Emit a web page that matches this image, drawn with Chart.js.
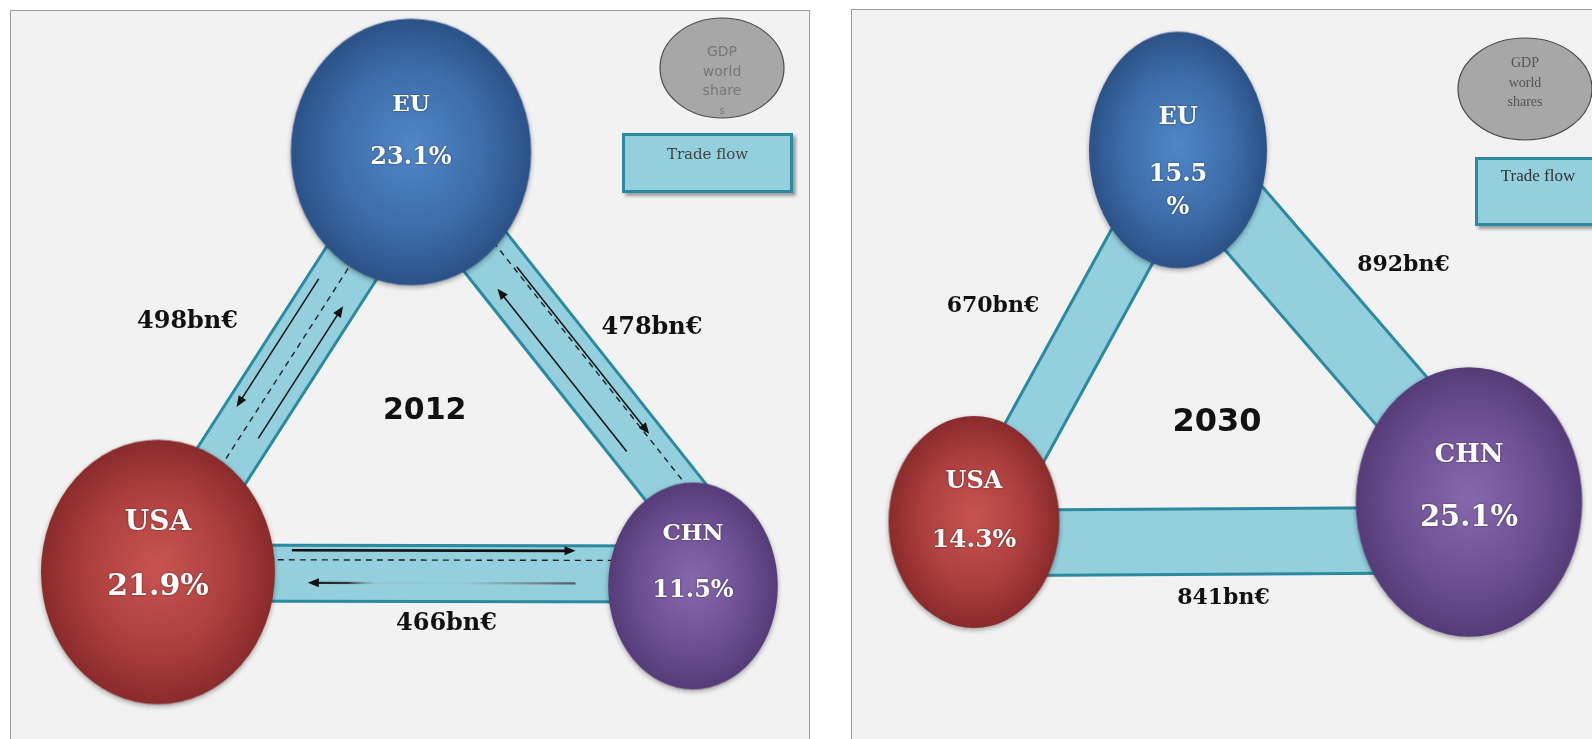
<!DOCTYPE html>
<html>
<head>
<meta charset="utf-8">
<script src="https://cdn.jsdelivr.net/npm/chart.js@4.4.1/dist/chart.umd.min.js"></script>
<style>
  html, body { margin: 0; padding: 0; background: #fff; width: 1592px; height: 739px; overflow: hidden; }
  .frame { position: absolute; background: #f2f2f2; border: 1px solid #9c9c9c; box-sizing: border-box; }
  canvas { position: absolute; }
</style>
</head>
<body>
<div class="frame" style="left:10px; top:10px; width:800px; height:760px;"></div>
<div class="frame" style="left:851px; top:9px; width:780px; height:760px;"></div>
<canvas id="chart2012" width="800" height="729" style="left:10px; top:10px;"></canvas>
<canvas id="chart2030" width="741" height="730" style="left:851px; top:9px;"></canvas>
<script>
// GDP world shares (%) per region
const regions = ['EU', 'USA', 'CHN'];
const gdpShare2012 = [23.1, 21.9, 11.5];
const gdpShare2030 = [15.5, 14.3, 25.1];

// Trade flows (bn€) between region pairs
const flowPairs = [['EU', 'USA'], ['EU', 'CHN'], ['USA', 'CHN']];
const trade2012 = [498, 478, 466];
const trade2030 = [670, 892, 841];

// Legend texts
const gdpLegend2012 = ['GDP', 'world', 'share', 's'];
const gdpLegend2030 = ['GDP', 'world', 'shares'];
const flowLegendText = 'Trade flow';

// Ball colours: highlight, mid, rim
const ballColors = {
    EU: ['#5087c7', '#3e6eab', '#2b5288'],
    USA: ['#c85451', '#ad403e', '#8a2b2b'],
    CHN: ['#8768ae', '#6e5194', '#553c78']
};

// Layout of each panel (page pixel coordinates, the scales are set to match them)
const layout2012 = {
    year: '2012',
    xRange: [10, 810], yRange: [10, 739],
    pos: { EU: [411, 152], USA: [158, 572], CHN: [693, 586] },
    aspect: { EU: 1.11, USA: 1.13, CHN: 1.22 },
    ballScale: 25,
    // [name size, value size, name dy, value dy, percent dy]
    text: { EU: [23, 24, -47, 6], USA: [28, 30, -49, 15], CHN: [23, 24, -52, 5] },
    bandScale: 0.12,
    bandShift: [[-10, 4], [4, -45], [1, -12]],
    labelOffset: [[-97, -40], [100, -41], [21, 45]],
    labelFont: 24,
    yearOffset: [4, -25], yearFont: 30,
    marks: [
        [{ t: [0.32, 0.63], off: 0.32 }, { t: [0.66, 0.34], off: -0.27 }, { t: [0.18, 0.86], off: 0, dash: true }],
        [{ t: [0.71, 0.31], off: 0.23 }, { t: [0.30, 0.71], off: -0.27 }, { t: [0.15, 0.88], off: -0.22, dash: true }],
        [{ t: [0.25, 0.78], off: -0.41, bold: true }, { t: [0.78, 0.28], off: 0.17, faded: true }, { t: [0.08, 0.93], off: -0.24, dash: true }]
    ],
    gdpLegend: { cx: 722, cy: 68, rx: 62, ry: 50, lines: gdpLegend2012, lineY: [52, 72, 91, 111], sizes: [14, 14, 14, 10], font: 'DejaVu Sans', color: '#777' },
    flowLegend: { x: 622, y: 133, w: 171, h: 60, textY: 155, size: 15, font: 'DejaVu Serif', color: '#444' }
};

const layout2030 = {
    year: '2030',
    xRange: [851, 1592], yRange: [9, 739],
    pos: { EU: [1178, 150], USA: [974, 522], CHN: [1469, 502] },
    aspect: { EU: 1.33, USA: 1.24, CHN: 1.19 },
    ballScale: 22.6,
    text: { EU: [24, 24, -32, 25, 58], USA: [24, 25, -40, 18], CHN: [26, 29, -47, 16] },
    bandScale: 0.078,
    bandShift: [[-6, -6], [-5, -15], [21, 38]],
    labelOffset: [[-83, -30], [80, -61], [2, 86]],
    labelFont: 22,
    yearOffset: [10, 31], yearFont: 32,
    marks: null,
    gdpLegend: { cx: 1525, cy: 89, rx: 67, ry: 51, lines: gdpLegend2030, lineY: [63, 83, 102], sizes: [14, 14, 14], font: 'Liberation Serif', color: '#555' },
    flowLegend: { x: 1475, y: 157, w: 126, h: 69, textY: 177, size: 17, font: 'Liberation Serif', color: '#333' }
};

function toPixel(chart, p) {
    return [chart.scales.x.getPixelForValue(p[0]), chart.scales.y.getPixelForValue(p[1])];
}

// Shaded ellipse used as the point style of each bubble
function makeBall(region, rx, aspect) {
    const ry = rx * aspect;
    const pad = 8;
    const c = document.createElement('canvas');
    c.width = Math.ceil(2 * rx + 2 * pad);
    c.height = Math.ceil(2 * ry + 2 * pad);
    const g = c.getContext('2d');
    const [hi, mid, rim] = ballColors[region];
    g.save();
    g.translate(c.width / 2, c.height / 2);
    g.shadowColor = 'rgba(0,0,0,0.35)';
    g.shadowBlur = 5;
    g.shadowOffsetY = 2;
    g.scale(1, aspect);
    const grad = g.createRadialGradient(0, -rx * 0.05, 0, 0, 0, rx);
    grad.addColorStop(0, hi);
    grad.addColorStop(0.6, mid);
    grad.addColorStop(1, rim);
    g.fillStyle = grad;
    g.beginPath();
    g.arc(0, 0, rx, 0, Math.PI * 2);
    g.fill();
    g.restore();
    return c;
}

function bandGeometry(chart, L, trade) {
    return flowPairs.map((pair, i) => {
        const A = toPixel(chart, L.pos[pair[0]]);
        const B = toPixel(chart, L.pos[pair[1]]);
        let len = Math.hypot(B[0] - A[0], B[1] - A[1]);
        let n = [-(B[1] - A[1]) / len, (B[0] - A[0]) / len];
        const [sA, sB] = L.bandShift[i];
        const a = [A[0] + n[0] * sA, A[1] + n[1] * sA];
        const b = [B[0] + n[0] * sB, B[1] + n[1] * sB];
        len = Math.hypot(b[0] - a[0], b[1] - a[1]);
        n = [-(b[1] - a[1]) / len, (b[0] - a[0]) / len];
        return { a, b, n, w: trade[i] * L.bandScale, mid: [(A[0] + B[0]) / 2, (A[1] + B[1]) / 2] };
    });
}

function drawBand(ctx, b) {
    const h = b.w / 2;
    const c = (p, k) => [p[0] + b.n[0] * k, p[1] + b.n[1] * k];
    const p1 = c(b.a, h), p2 = c(b.b, h), p3 = c(b.b, -h), p4 = c(b.a, -h);
    ctx.save();
    ctx.fillStyle = '#93cfdc';
    ctx.beginPath();
    ctx.moveTo(p1[0], p1[1]);
    ctx.lineTo(p2[0], p2[1]);
    ctx.lineTo(p3[0], p3[1]);
    ctx.lineTo(p4[0], p4[1]);
    ctx.closePath();
    ctx.fill();
    ctx.strokeStyle = '#2b8a9f';
    ctx.lineWidth = 3;
    ctx.beginPath();
    ctx.moveTo(p1[0], p1[1]);
    ctx.lineTo(p2[0], p2[1]);
    ctx.moveTo(p4[0], p4[1]);
    ctx.lineTo(p3[0], p3[1]);
    ctx.stroke();
    ctx.restore();
}

function pointOnBand(b, t, off) {
    return [b.a[0] + (b.b[0] - b.a[0]) * t + b.n[0] * off * b.w,
            b.a[1] + (b.b[1] - b.a[1]) * t + b.n[1] * off * b.w];
}

function drawMark(ctx, b, m) {
    const s = pointOnBand(b, m.t[0], m.off);
    const e = pointOnBand(b, m.t[1], m.off);
    ctx.save();
    if (m.dash) {
        ctx.strokeStyle = '#222';
        ctx.lineWidth = 1.4;
        ctx.setLineDash([6, 5]);
        ctx.beginPath();
        ctx.moveTo(s[0], s[1]);
        ctx.lineTo(e[0], e[1]);
        ctx.stroke();
        ctx.restore();
        return;
    }
    const dx = e[0] - s[0], dy = e[1] - s[1], l = Math.hypot(dx, dy);
    const ux = dx / l, uy = dy / l;
    const hl = 11, hw = 4.5;
    const bx = e[0] - ux * hl, by = e[1] - uy * hl;
    ctx.lineWidth = m.bold ? 2.6 : 1.5;
    if (m.faded) {
        const grad = ctx.createLinearGradient(s[0], s[1], e[0], e[1]);
        grad.addColorStop(0, 'rgba(70,70,70,0.85)');
        grad.addColorStop(0.3, 'rgba(110,110,110,0.35)');
        grad.addColorStop(0.42, 'rgba(120,120,120,0.05)');
        grad.addColorStop(0.75, 'rgba(120,120,120,0.1)');
        grad.addColorStop(0.85, 'rgba(40,40,40,0.9)');
        grad.addColorStop(1, 'rgba(20,20,20,1)');
        ctx.strokeStyle = grad;
        ctx.lineWidth = 2.2;
    } else {
        ctx.strokeStyle = '#111';
    }
    ctx.beginPath();
    ctx.moveTo(s[0], s[1]);
    ctx.lineTo(bx + ux * 3, by + uy * 3);
    ctx.stroke();
    ctx.fillStyle = '#111';
    ctx.beginPath();
    ctx.moveTo(e[0], e[1]);
    ctx.lineTo(bx - uy * hw, by + ux * hw);
    ctx.lineTo(bx + uy * hw, by - ux * hw);
    ctx.closePath();
    ctx.fill();
    ctx.restore();
}

function drawLegends(chart, L) {
    const ctx = chart.ctx;
    const g = L.gdpLegend;
    const c = toPixel(chart, [g.cx, g.cy]);
    ctx.save();
    ctx.fillStyle = '#a7a7a7';
    ctx.strokeStyle = '#4a4a4a';
    ctx.lineWidth = 1.2;
    ctx.beginPath();
    ctx.ellipse(c[0], c[1], g.rx, g.ry, 0, 0, Math.PI * 2);
    ctx.fill();
    ctx.stroke();
    ctx.fillStyle = g.color;
    ctx.textAlign = 'center';
    ctx.textBaseline = 'middle';
    g.lines.forEach((line, i) => {
        ctx.font = g.sizes[i] + 'px "' + g.font + '"';
        const p = toPixel(chart, [g.cx, g.lineY[i]]);
        ctx.fillText(line, p[0], p[1]);
    });
    ctx.restore();

    const f = L.flowLegend;
    const tl = toPixel(chart, [f.x, f.y]);
    ctx.save();
    ctx.shadowColor = 'rgba(0,0,0,0.35)';
    ctx.shadowBlur = 3;
    ctx.shadowOffsetX = 3;
    ctx.shadowOffsetY = 3;
    ctx.fillStyle = '#93cfdc';
    ctx.fillRect(tl[0], tl[1], f.w, f.h);
    ctx.restore();
    ctx.save();
    ctx.strokeStyle = '#2b8a9f';
    ctx.lineWidth = 3;
    ctx.strokeRect(tl[0] + 1.5, tl[1] + 1.5, f.w - 3, f.h - 3);
    ctx.fillStyle = f.color;
    ctx.font = f.size + 'px "' + f.font + '"';
    ctx.textAlign = 'center';
    ctx.textBaseline = 'middle';
    const tp = toPixel(chart, [f.x + f.w / 2, f.textY]);
    ctx.fillText(flowLegendText, tp[0], tp[1]);
    ctx.restore();
}

const diagramPlugin = {
    id: 'diagram',
    beforeDatasetsDraw(chart, args, opts) {
        const ctx = chart.ctx;
        const L = opts.layout;
        const bands = bandGeometry(chart, L, opts.trade);
        bands.forEach((b, i) => {
            drawBand(ctx, b);
            if (L.marks) {
                L.marks[i].forEach(m => drawMark(ctx, b, m));
            }
        });
    },
    afterDatasetsDraw(chart, args, opts) {
        const ctx = chart.ctx;
        const L = opts.layout;
        const bands = bandGeometry(chart, L, opts.trade);

        // Region names and GDP shares inside the balls
        ctx.save();
        ctx.textAlign = 'center';
        ctx.textBaseline = 'middle';
        ctx.fillStyle = '#fff';
        ctx.shadowColor = 'rgba(0,0,0,0.55)';
        ctx.shadowBlur = 2;
        regions.forEach((r, i) => {
            const p = toPixel(chart, L.pos[r]);
            const [nameSize, valSize, nameDy, valDy, pctDy] = L.text[r];
            ctx.font = 'bold ' + nameSize + 'px "DejaVu Serif"';
            ctx.fillText(r, p[0], p[1] + nameDy);
            ctx.font = 'bold ' + valSize + 'px "DejaVu Serif"';
            const v = opts.shares[i].toFixed(1);
            if (pctDy !== undefined) {
                ctx.fillText(v, p[0], p[1] + valDy);
                ctx.fillText('%', p[0], p[1] + pctDy);
            } else {
                ctx.fillText(v + '%', p[0], p[1] + valDy);
            }
        });
        ctx.restore();

        // Trade flow values
        ctx.save();
        ctx.textAlign = 'center';
        ctx.textBaseline = 'middle';
        ctx.fillStyle = '#111';
        ctx.font = 'bold ' + L.labelFont + 'px "DejaVu Serif"';
        bands.forEach((b, i) => {
            const o = L.labelOffset[i];
            ctx.fillText(opts.trade[i] + 'bn€', b.mid[0] + o[0], b.mid[1] + o[1]);
        });

        // Year in the middle of the triangle
        const pts = regions.map(r => toPixel(chart, L.pos[r]));
        const cx = (pts[0][0] + pts[1][0] + pts[2][0]) / 3;
        const cy = (pts[0][1] + pts[1][1] + pts[2][1]) / 3;
        ctx.font = 'bold ' + L.yearFont + 'px "DejaVu Sans"';
        ctx.fillText(L.year, cx + L.yearOffset[0], cy + L.yearOffset[1]);
        ctx.restore();

        drawLegends(chart, L);
    }
};

function makeChart(canvasId, L, shares, trade) {
    const radii = shares.map(s => L.ballScale * Math.sqrt(s));
    const balls = regions.map((r, i) => makeBall(r, radii[i], L.aspect[r]));
    return new Chart(document.getElementById(canvasId), {
        type: 'bubble',
        data: {
            datasets: [{
                label: 'GDP world shares',
                data: regions.map((r, i) => ({ x: L.pos[r][0], y: L.pos[r][1], r: radii[i] })),
                pointStyle: (c) => balls[c.dataIndex],
                clip: false
            }]
        },
        options: {
            responsive: false,
            animation: false,
            events: [],
            layout: { padding: 0, autoPadding: false },
            scales: {
                x: { type: 'linear', min: L.xRange[0], max: L.xRange[1], display: false },
                y: { type: 'linear', min: L.yRange[0], max: L.yRange[1], reverse: true, display: false }
            },
            plugins: {
                legend: { display: false },
                tooltip: { enabled: false },
                diagram: { layout: L, shares: shares, trade: trade }
            }
        },
        plugins: [diagramPlugin]
    });
}

makeChart('chart2012', layout2012, gdpShare2012, trade2012);
makeChart('chart2030', layout2030, gdpShare2030, trade2030);
</script>
</body>
</html>
